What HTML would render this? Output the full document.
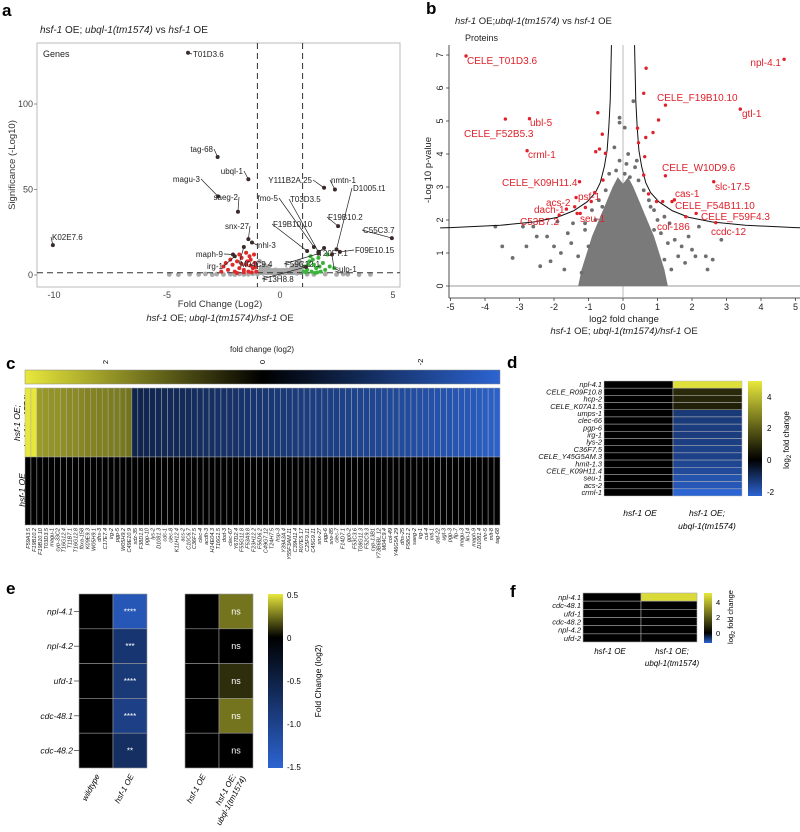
<!DOCTYPE html>
<html><head><meta charset="utf-8">
<style>
html,body{margin:0;padding:0;background:#fff;}
svg{display:block;font-family:"Liberation Sans",sans-serif;}
</style></head>
<body>
<svg id="fig" width="800" height="832" viewBox="0 0 800 832" xmlns="http://www.w3.org/2000/svg">
<defs>
<linearGradient id="gc" x1="0" y1="0" x2="1" y2="0"><stop offset="0" stop-color="#e8e83c"/><stop offset="0.5" stop-color="#000"/><stop offset="1" stop-color="#2c64d2"/></linearGradient>
<linearGradient id="gd" x1="0" y1="0" x2="0" y2="1"><stop offset="0" stop-color="#e8e83c"/><stop offset="0.685" stop-color="#000"/><stop offset="1" stop-color="#2c64d2"/></linearGradient>
<linearGradient id="ge" x1="0" y1="0" x2="0" y2="1"><stop offset="0" stop-color="#e8e83c"/><stop offset="0.25" stop-color="#000"/><stop offset="1" stop-color="#2c64d2"/></linearGradient>
<linearGradient id="gf" x1="0" y1="0" x2="0" y2="1"><stop offset="0" stop-color="#e8e83c"/><stop offset="0.8" stop-color="#000"/><stop offset="1" stop-color="#2c64d2"/></linearGradient>
</defs>
<text x="2" y="16" font-size="17" font-weight="bold">a</text>
<text x="426" y="14" font-size="17" font-weight="bold">b</text>
<text x="6" y="369" font-size="17" font-weight="bold">c</text>
<text x="507" y="368" font-size="17" font-weight="bold">d</text>
<text x="6" y="594" font-size="17" font-weight="bold">e</text>
<text x="510" y="597" font-size="17" font-weight="bold">f</text>

<text x="40" y="33" font-size="10" fill="#222"><tspan font-style="italic">hsf-1</tspan> OE; <tspan font-style="italic">ubql-1(tm1574)</tspan> vs <tspan font-style="italic">hsf-1</tspan> OE</text>
<rect x="37" y="43" width="363" height="244" fill="#fff" stroke="#bbb" stroke-width="1"/>
<text x="43" y="57" font-size="9" fill="#222">Genes</text>
<text transform="translate(15,165) rotate(-90)" text-anchor="middle" font-size="9.5" fill="#333">Significance (-Log10)</text>
<text x="220" y="307" text-anchor="middle" font-size="9.5" fill="#333">Fold Change (Log2)</text>
<text x="220" y="321" text-anchor="middle" font-size="9.5" fill="#222"><tspan font-style="italic">hsf-1</tspan> OE; <tspan font-style="italic">ubql-1(tm1574)/hsf-1</tspan> OE</text>
<g id="ga"></g>

<text x="455" y="24" font-size="9.5" fill="#222"><tspan font-style="italic">hsf-1</tspan> OE;<tspan font-style="italic">ubql-1(tm1574)</tspan> vs <tspan font-style="italic">hsf-1</tspan> OE</text>
<text x="465" y="41" font-size="9" fill="#222">Proteins</text>
<text transform="translate(431,170) rotate(-90)" text-anchor="middle" font-size="9.5" fill="#222">-Log 10 p-value</text>
<text x="624" y="322" text-anchor="middle" font-size="9.5" fill="#222">log2 fold change</text>
<text x="624" y="334" text-anchor="middle" font-size="9.5" fill="#222"><tspan font-style="italic">hsf-1</tspan> OE; <tspan font-style="italic">ubql-1(tm1574)/hsf-1</tspan> OE</text>
<g id="gb"></g>

<text x="262" y="352" text-anchor="middle" font-size="8" fill="#222">fold change (log2)</text>
<rect x="25" y="370" width="475" height="14" fill="url(#gc)" stroke="#888" stroke-width="0.5"/>
<text transform="translate(108,362) rotate(-90)" text-anchor="middle" font-size="7.5">2</text>
<text transform="translate(265,362) rotate(-90)" text-anchor="middle" font-size="7.5">0</text>
<text transform="translate(423,362) rotate(-90)" text-anchor="middle" font-size="7.5">-2</text>
<text transform="translate(20,423) rotate(-90)" text-anchor="middle" font-size="8.5" font-style="italic">hsf-1 OE;</text>
<text transform="translate(30,423) rotate(-90)" text-anchor="middle" font-size="8.5" font-style="italic">ubql-1(tm1574)</text>
<text transform="translate(25,490) rotate(-90)" text-anchor="middle" font-size="8.5" font-style="italic">hsf-1 OE</text>
<g id="gcg"></g>

<rect x="748" y="381" width="14" height="115" fill="url(#gd)"/>
<text x="767" y="400" font-size="8">4</text>
<text x="767" y="431" font-size="8">2</text>
<text x="767" y="463" font-size="8">0</text>
<text x="767" y="495" font-size="8">-2</text>
<text transform="translate(789,440) rotate(-90)" text-anchor="middle" font-size="8">log<tspan font-size="6" dy="2">2</tspan><tspan dy="-2"> fold change</tspan></text>
<text x="640" y="516" text-anchor="middle" font-size="8.5" font-style="italic">hsf-1 OE</text>
<text x="707" y="516" text-anchor="middle" font-size="8.5" font-style="italic">hsf-1 OE;</text>
<text x="707" y="529" text-anchor="middle" font-size="8.5" font-style="italic">ubql-1(tm1574)</text>
<g id="gd2"></g>

<rect x="268" y="594" width="15" height="174" fill="url(#ge)"/>
<text x="287" y="598" font-size="8">0.5</text>
<text x="287" y="641" font-size="8">0</text>
<text x="287" y="684" font-size="8">-0.5</text>
<text x="287" y="727" font-size="8">-1.0</text>
<text x="287" y="770" font-size="8">-1.5</text>
<text transform="translate(321,681) rotate(-90)" text-anchor="middle" font-size="8.5">Fold Change (log2)</text>
<text transform="translate(100,776) rotate(-62)" text-anchor="end" font-size="8" font-style="italic">wildtype</text>
<text transform="translate(134,776) rotate(-62)" text-anchor="end" font-size="8" font-style="italic">hsf-1 OE</text>
<text transform="translate(206,776) rotate(-62)" text-anchor="end" font-size="8" font-style="italic">hsf-1 OE</text>
<text transform="translate(236,776) rotate(-62)" text-anchor="end" font-size="8" font-style="italic">hsf-1 OE;</text>
<text transform="translate(246,778) rotate(-62)" text-anchor="end" font-size="8" font-style="italic">ubql-1(tm1574)</text>
<g id="ge2"></g>

<rect x="704" y="593" width="8" height="50" fill="url(#gf)"/>
<text x="716" y="605" font-size="7.5">4</text>
<text x="716" y="620" font-size="7.5">2</text>
<text x="716" y="636" font-size="7.5">0</text>
<text transform="translate(733,617) rotate(-90)" text-anchor="middle" font-size="7.5">log<tspan font-size="5.5" dy="2">2</tspan><tspan dy="-2"> fold change</tspan></text>
<text x="610" y="654" text-anchor="middle" font-size="8" font-style="italic">hsf-1 OE</text>
<text x="672" y="654" text-anchor="middle" font-size="8" font-style="italic">hsf-1 OE;</text>
<text x="672" y="666" text-anchor="middle" font-size="8" font-style="italic">ubql-1(tm1574)</text>
<g id="gf2"></g>
</svg>
<script>
const aGrayX=[-4.9,-4.5,-4.0,-3.6,-3.3,-3.0,-2.8,-2.5,-2.2,-2.0,-1.8,-1.6,-1.4,-1.2,-1.0,-0.9,-0.8,-0.7,-0.6,-0.5,-0.4,-0.3,-0.2,-0.1,0,0.1,0.2,0.3,0.4,0.5,0.6,0.7,0.8,0.9,0.95,1.2,1.5,2.0,2.5,3.0,3.5,4.0,2.8,-0.75,0.75,-0.9,0.85,-0.85,-0.65,0.65,0.55,-0.55];
const aGrayY=[0.3,0.2,0.4,0.3,0.6,0.2,0.5,0.3,0.4,0.2,0.6,0.3,0.4,0.7,0.5,2,4,6,3,5,2,1,3,1.5,0.5,2,1,3,2,4,5,6,3,7,4,0.4,0.3,0.5,0.3,0.4,0.2,0.3,0.6,1,1,8,8,1.5,3.5,2.5,1.5,1.2];
const aRedX=[-2.3,-2.1,-2.0,-1.9,-1.8,-1.7,-1.6,-1.5,-1.4,-1.3,-1.2,-1.1,-1.05,-1.5,-1.8,-2.2,-2.5,-1.35,-1.15,-1.25,-1.6,-1.9,-2.6,-1.7,-1.45,-1.1,-1.3,-2.4];
const aRedY=[3,6,2,8,4,10,3,6,2,9,4,7,2,13,12,9,5,11,12,1.5,1.5,1.2,2,6.5,8,4.5,5.5,7];
const aGreenX=[1.05,1.1,1.2,1.3,1.4,1.5,1.6,1.7,1.8,1.9,2.0,2.1,2.2,1.35,1.15,1.55,1.75,2.4,1.25,1.45,1.65];
const aGreenY=[2,5,3,8,2,6,4,10,2,7,3,12,5,11,1.5,1.2,5,4,6,9,1.5];
const aLabNames=["T01D3.6","tag-68","ubql-1","magu-3","saeg-2","snx-27","nhl-3","maph-9","M04C9.4","irg-1","K02E7.6","Y111B2A.25","nmtn-1","fmo-5","T03D3.5","F19B10.10","D1005.t1","F19B10.2","C55C3.7","T20F7.1","F09E10.15","sulp-1","F59C12.1","F13H8.8"];
const aLabX=[-4.07,-2.76,-1.4,-2.74,-1.86,-1.4,-1.24,-2.08,-1.6,-2.0,-10.05,1.95,2.43,1.5,1.7,1.2,2.5,2.57,4.95,1.95,2.65,2.3,1.7,1.15];
const aLabY=[130,69,56,46,37,21,19,12,16.4,11,17.5,51,50,16.4,13.5,14,15,28.6,21.6,15.8,13.5,12,12.5,4.7];
const aLabTX=[193,213,243,200,238,249,258,223,240,223,52,312,331,278,290,273,353,328,363,318,355,335,285,263];
const aLabTY=[57,152,174,182,200,229,248,257,267,269,240,183,183,201,202,227,191,220,233,256,253,272,267,282];
const aLabAnchor=["start","end","end","end","end","end","start","end","start","end","start","end","start","end","start","start","start","start","start","start","start","start","start","start"];

const bRedX=[-4.55,4.67,0.67,0.6,1.23,3.4,1.03,-3.41,-2.71,-0.73,0.87,-0.6,0.42,0.66,0.45,-2.78,-0.68,-0.79,-0.51,0.63,1.23,0.6,-0.58,-1.26,2.63,-0.82,-1.36,-0.92,-1.09,-1.4,-1.64,-1.33,-1.24,-1.85,0.74,0.97,1.15,1.49,1.42,2.12,1.82,2.69];
const bRedY=[6.97,6.87,6.6,5.84,5.48,5.36,5.03,5.06,5.07,5.25,4.65,4.6,4.78,4.5,4.34,4.1,4.15,4.07,4.02,3.92,3.34,3.36,3.21,3.16,3.16,2.83,2.68,2.56,2.38,2.4,2.33,2.2,2.2,2.15,2.79,2.56,2.56,2.61,2.56,2.2,2.1,1.92];
const bGrayX=[-3.7,-3.5,-2.8,-2.5,-2.2,-2.0,-2.1,-3.2,-2.6,-2.9,-1.8,-1.6,-1.5,-1.3,-1.7,-1.1,-1.0,-1.2,1.1,1.3,1.5,1.6,1.7,2.1,2.2,2.4,2.85,2.45,1.9,1.2,1.4,0.9,0.3,-0.1,-0.1,0.05,-0.25,0.15,0.1,-0.1,0.4,0.35,-0.2,0.05,0.2,-0.4,0.45,-0.5,0.6,-0.7,0.75,-0.9,0.9,-0.8,1.0,-1.1,1.2,-0.6,0.8,2.0,1.8,-1.9,-2.4,2.6,1.35,-1.45];
const bGrayY=[1.8,1.2,1.2,1.5,1.5,1.2,0.75,0.85,1.8,1.8,1.0,1.6,1.3,0.9,0.5,1.7,1.2,0.4,1.6,1.3,1.4,0.9,1.2,0.9,1.8,0.9,1.4,0.5,1.5,0.8,0.5,1.7,5.6,5.1,4.95,4.8,4.2,4.0,3.7,3.8,3.8,3.6,3.5,3.4,3.3,3.4,3.2,2.9,2.9,2.6,2.6,2.3,2.3,2.0,2.0,1.9,2.1,2.4,2.4,1.1,0.7,1.95,0.6,0.8,1.9,1.9];
const bCoreX=[-1.3,-1.2,-1.05,-0.9,-0.7,-0.5,-0.3,-0.15,0,0.15,0.3,0.5,0.7,0.9,1.05,1.2,1.3];
const bCoreY=[0,0.5,1.0,1.5,2.0,2.5,3.0,3.3,3.1,3.3,3.0,2.5,2.0,1.5,1.0,0.5,0];
const bThreshX=[-5.3,-5.0,-3.55,-2.59,-1.91,-1.43,-1.04,-0.80,-0.66,-0.54,-0.46,-0.41,-0.37,-0.335];
const bThreshY=[1.76,1.77,1.84,1.94,2.08,2.28,2.55,2.83,3.13,3.62,4.12,4.83,5.64,7.3];
const bLabNames=["CELE_T01D3.6","npl-4.1","CELE_F19B10.10","gtl-1","ubl-5","CELE_F52B5.3","crml-1","CELE_W10D9.6","CELE_K09H11.4","slc-17.5","cas-1","psf-1","acs-2","CELE_F54B11.10","dach-1","CELE_F59F4.3","C53B7.2","seu-1","col-186","ccdc-12"];
const bLabTX=[467,781,657,742,530,464,528,662,502,715,675,578,546,675,534,701,520,580,657,711];
const bLabTY=[64,66,101,117,126,137,158,171,186,190,197,200,206,209,213,220,225,222,230,235];
const bXTicks=[-5,-4,-3,-2,-1,0,1,2,3,4,5];
const bYTicks=[0,1,2,3,4,5,6,7];

const cGenes=["F59A3.5","F19B10.2","F19B10.10","T03D3.5","magu-1","cyp-33C2","T16G12.4","T11B7.1","T16G12.8","fbxa-158","K09E9.3","W05H9.1","dhs-3","C17E7.4","irg-2","pgp-5","W05H9.2","C49E10.9","sdz-35","F38D1.8","pgp-10","lys-2","D1081.3","cdc-1","clec-8","K11H12.4","acs-2","C10C6.7","C36F7.5","clec-4","acdh-3","H14E04.3","T16G1.5","dod-3","clec-67","Y67D2.4","F55G11.8","F53A9.8","F23H12.2","F56D6.2","C49G7.12","T24H7.5","hsp-3","Y39A3A.4","Y55F3AM.11","C39H11.4","R07E5.17","C25F9.11","C45G9.11","snx-27","pgp-6","srw-85","clec-7","F14D7.1","gpb-2","F53C3.6","T08G11.3","F52C9.3","cyp-13B1","Y73B6BL.12","M04C9.4","col-49","Y46G5A.29","dhs-25","F58G1.2","saeg-2","irg-1","cul-4","mtl-1","daf-22","ugt-3","pgp-3","flp-7","magu-3","lin-14","maph-9","D1081.4","nhr-5","mlt-8","tag-68"];
const cMutant=[3.2,3.0,2.0,1.95,1.9,1.9,1.85,1.8,1.8,1.75,1.7,1.7,1.65,1.65,1.6,1.6,1.55,1.5,
-1.10,-1.12,-1.15,-1.18,-1.20,-1.22,-1.25,-1.27,-1.30,-1.32,-1.35,-1.37,-1.40,-1.42,-1.45,-1.47,-1.50,-1.52,-1.55,-1.57,-1.60,-1.62,-1.65,-1.67,-1.70,-1.72,-1.75,-1.77,-1.80,-1.82,-1.85,-1.87,-1.90,-1.92,-1.95,-1.97,-2.00,-2.02,-2.05,-2.07,-2.10,-2.12,-2.15,-2.18,-2.20,-2.23,-2.26,-2.30,-2.33,-2.37,-2.40,-2.44,-2.48,-2.52,-2.56,-2.60,-2.64,-2.68,-2.72,-2.78,-2.84,-2.90];
const cHsf=[0,0,0,0,0,0,0,0,0,0,0,0,0,0,0,0,0,0,0,0,0,0,0,0,0,0,0,0,0,0,0,0,0,0,0,0,0,0,0,0,0,0,0,0,0,0,0,0,0,0,0,0,0,0,0,0,0,0,0,0,0,0,0,0,0,0,0,0,0,0,0,0,0,0,0,0,0,0,0,0];

const dGenes=["npl-4.1","CELE_R09F10.8","hcp-2","CELE_K07A1.5","umps-1","clec-66","pgp-6","irg-1","lys-2","C36F7.5","CELE_Y45G5AM.3","hmit-1.3","CELE_K09H11.4","seu-1","acs-2","crml-1"];
const dHsf=[0,0,0,0,0,0,0,0,0,0,0,0,0,0,0,0];
const dMutant=[4.8,0.9,0.8,0.7,-1.3,-1.35,-1.4,-1.4,-1.45,-1.5,-1.5,-1.6,-1.7,-1.9,-2.0,-2.3];

const eGenes=["npl-4.1","npl-4.2","ufd-1","cdc-48.1","cdc-48.2"];
const eWild=[0,0,0,0,0];
const eHsf=[-1.3,-0.8,-0.85,-0.95,-0.7];
const eHsfSig=["****","***","****","****","**"];
const eHsf2=[0,0,0,0,0];
const eMutant=[0.25,0.0,0.1,0.25,0.0];
const eMutSig=["ns","ns","ns","ns","ns"];

const fGenes=["npl-4.1","cdc-48.1","ufd-1","cdc-48.2","npl-4.2","ufd-2"];
const fHsf=[0,0,0,0,0,0];
const fMutant=[4.8,0,0,0,0,0];

const NS='http://www.w3.org/2000/svg';
function mk(tag,attrs,parent){const e=document.createElementNS(NS,tag);for(const k in attrs)e.setAttribute(k,attrs[k]);parent.appendChild(e);return e;}
function tx(parent,x,y,s,attrs){const t=mk('text',Object.assign({x:x,y:y},attrs||{}),parent);t.textContent=s;return t;}
const YEL=[232,232,60],BLU=[44,100,210];
function cmap(v,vmax,vmin){let c,t;if(v>=0){t=Math.min(1,v/vmax);c=YEL;}else{t=Math.min(1,v/vmin);c=BLU;}
 return 'rgb('+Math.round(c[0]*t)+','+Math.round(c[1]*t)+','+Math.round(c[2]*t)+')';}

// panel a
const ga=document.getElementById('ga');
const aX=v=>280+22.6*v, aY=v=>275-1.71*v;
[[-10,'-10'],[-5,'-5'],[0,'0'],[5,'5']].forEach(d=>{
  const t=tx(ga,aX(d[0]),298,d[1],{'text-anchor':'middle','font-size':9,fill:'#444'});
  
  
});
[[0,'0'],[50,'50'],[100,'100']].forEach(d=>{
  const t=tx(ga,33,aY(d[0])+3,d[1],{'text-anchor':'end','font-size':9,fill:'#444'});
  
  
  const l=mk('line',{x1:34,x2:37,y1:aY(d[0]),y2:aY(d[0]),stroke:'#666','stroke-width':0.7},ga);
  
  
});
[-1,1].forEach(v=>{
  const l=mk('line',{x1:aX(v),x2:aX(v),y1:43,y2:287,stroke:'#333','stroke-width':1,'stroke-dasharray':'6,4'},ga);
  
  
});
for(let i=0;i<aGrayX.length;i++){
  const c=mk('circle',{cx:aX(aGrayX[i]),cy:aY(aGrayY[i]),r:2.4,fill:'#aaa'},ga);
  
  
}
{
  const p=mk('path',{d:'M'+aX(-1)+','+aY(0)+' L'+aX(-0.9)+','+aY(6)+' L'+aX(-0.4)+','+aY(4)+' L'+aX(0.4)+','+aY(4)+' L'+aX(0.9)+','+aY(7)+' L'+aX(1)+','+aY(0)+'Z',fill:'#aaa'},ga);
  
  
}
{
  const l=mk('line',{x1:37,x2:400,y1:aY(1.3),y2:aY(1.3),stroke:'#333','stroke-width':1,'stroke-dasharray':'6,4'},ga);
  
  
}
for(let i=0;i<aRedX.length;i++){
  const c=mk('circle',{cx:aX(aRedX[i]),cy:aY(aRedY[i]),r:2,fill:'#e02a2a'},ga);
  
  
}
for(let i=0;i<aGreenX.length;i++){
  const c=mk('circle',{cx:aX(aGreenX[i]),cy:aY(aGreenY[i]),r:2,fill:'#3cb43c'},ga);
  
  
}
for(let i=0;i<aLabNames.length;i++){
  const px=aX(aLabX[i]),py=aY(aLabY[i]);
  const l=mk('line',{x1:px,y1:py,x2:aLabTX[i]+(aLabAnchor[i]==='start'?-1:1),y2:aLabTY[i]-3,stroke:'#222','stroke-width':0.7},ga);
  
  
  const c=mk('circle',{cx:px,cy:py,r:2,fill:'#3a2a2a'},ga);
  
  
  const t=tx(ga,aLabTX[i],aLabTY[i],aLabNames[i],{'text-anchor':aLabAnchor[i],'font-size':8,fill:'#222'});
  
  
}

// panel b
const gb=document.getElementById('gb');
const bX=v=>623+34.5*v, bY=v=>286-33*v;
{
  const l1=mk('line',{x1:449,x2:449,y1:45,y2:298,stroke:'#222','stroke-width':0.8},gb);
  
  
  const l2=mk('line',{x1:449,x2:800,y1:298,y2:298,stroke:'#222','stroke-width':0.8},gb);
  
  
  const l3=mk('line',{x1:bX(0),x2:bX(0),y1:45,y2:298,stroke:'#aaa','stroke-width':0.8},gb);
  
  
  const l4=mk('line',{x1:449,x2:800,y1:bY(0),y2:bY(0),stroke:'#777','stroke-width':0.8},gb);
  
  
}
bXTicks.forEach(v=>{
  const l=mk('line',{x1:bX(v),x2:bX(v),y1:298,y2:301,stroke:'#222','stroke-width':0.7},gb);
  
  
  const t=tx(gb,bX(v),310,String(v),{'text-anchor':'middle','font-size':9,fill:'#222'});
  
  
});
bYTicks.forEach(v=>{
  const l=mk('line',{x1:446,x2:449,y1:bY(v),y2:bY(v),stroke:'#222','stroke-width':0.7},gb);
  
  
  const t=tx(gb,0,0,String(v),{'text-anchor':'middle','font-size':9,fill:'#222',transform:'translate(443,'+bY(v)+') rotate(-90)'});
  
  
});
{
  let d='';for(let i=0;i<bCoreX.length;i++)d+=(i?'L':'M')+bX(bCoreX[i])+','+bY(bCoreY[i]);
  const p=mk('path',{d:d+'Z',fill:'#7a7a7a'},gb);
  
  
}
for(let i=0;i<bGrayX.length;i++){
  const c=mk('circle',{cx:bX(bGrayX[i]),cy:bY(bGrayY[i]),r:1.9,fill:'#6e6e6e'},gb);
  
  
}
[-1,1].forEach(s=>{
  let d='';
  for(let i=0;i<bThreshX.length;i++){
    const xv=(s<0)?bThreshX[i]:-bThreshX[i];
    d+=(i?'L':'M')+bX(xv)+','+bY(bThreshY[i]);
  }
  const p=mk('path',{d:d,fill:'none',stroke:'#111','stroke-width':1},gb);
  
  
});
for(let i=0;i<bRedX.length;i++){
  const c=mk('circle',{cx:bX(bRedX[i]),cy:bY(bRedY[i]),r:1.7,fill:'#e0202a'},gb);
  
  
}
for(let i=0;i<bLabNames.length;i++){
  const t=tx(gb,bLabTX[i],bLabTY[i],bLabNames[i],{'text-anchor':i===1?'end':'start','font-size':10,fill:'#e0202a'});
  
  
}

// panel c
const gcg=document.getElementById('gcg');
{
  const x0=25,w=475/cGenes.length;
  for(let i=0;i<cGenes.length;i++){
    const r1=mk('rect',{x:x0+i*w,y:388,width:w,height:69,fill:cmap(cMutant[i],3,-3),stroke:'#aaa','stroke-width':0.5},gcg);
    
    
    const r2=mk('rect',{x:x0+i*w,y:457,width:w,height:68,fill:cmap(cHsf[i],3,-3),stroke:'#aaa','stroke-width':0.5},gcg);
    
    
    const t=tx(gcg,0,0,cGenes[i],{'text-anchor':'end','font-size':5.5,'font-style':'italic',fill:'#222',transform:'translate('+(x0+i*w+w/2+2)+',528) rotate(-90)'});
    
    
  }
}

// panel d
const gd2=document.getElementById('gd2');
{
  const h=115/dGenes.length;
  for(let i=0;i<dGenes.length;i++){
    const y=381+i*h;
    const r1=mk('rect',{x:604,y:y,width:69,height:h,fill:cmap(dHsf[i],5,-2.3),stroke:'#bbb','stroke-width':0.5},gd2);
    
    
    const r2=mk('rect',{x:673,y:y,width:69,height:h,fill:cmap(dMutant[i],5,-2.3),stroke:'#bbb','stroke-width':0.5},gd2);
    
    
    const t=tx(gd2,602,y+h-1,dGenes[i],{'text-anchor':'end','font-size':7.4,'font-style':'italic',fill:'#111'});
    
    
  }
}

// panel e
const ge2=document.getElementById('ge2');
{
  const h=174/eGenes.length;
  const cols=[[79,eWild,null],[113,eHsf,eHsfSig],[185,eHsf2,null],[219,eMutant,eMutSig]];
  for(let i=0;i<eGenes.length;i++){
    const y=594+i*h;
    cols.forEach(c=>{
      const r=mk('rect',{x:c[0],y:y,width:34,height:h,fill:cmap(c[1][i],0.5,-1.5),stroke:'#999','stroke-width':0.6},ge2);
      
      
      if(c[2]){
        const t=tx(ge2,c[0]+17,y+h/2+3,c[2][i],{'text-anchor':'middle','font-size':c[2][i]==='ns'?9:8,fill:'#fff'});
        
        
      }
    });
    const t=tx(ge2,73,y+h/2+3,eGenes[i],{'text-anchor':'end','font-size':8.5,'font-style':'italic',fill:'#111'});
    
    
    const l=mk('line',{x1:74,x2:79,y1:y+h/2,y2:y+h/2,stroke:'#333','stroke-width':0.7},ge2);
    
    
  }
}

// panel f
const gf2=document.getElementById('gf2');
{
  const h=49/fGenes.length;
  for(let i=0;i<fGenes.length;i++){
    const y=593+i*h;
    const r1=mk('rect',{x:583,y:y,width:58,height:h,fill:cmap(fHsf[i],5.1,-1.25),stroke:'#aaa','stroke-width':0.6},gf2);
    
    
    const r2=mk('rect',{x:641,y:y,width:56,height:h,fill:cmap(fMutant[i],5.1,-1.25),stroke:'#aaa','stroke-width':0.6},gf2);
    
    
    const t=tx(gf2,581,y+h-1.2,fGenes[i],{'text-anchor':'end','font-size':7.5,'font-style':'italic',fill:'#111'});
    
    
  }
}
</script>
</body></html>
